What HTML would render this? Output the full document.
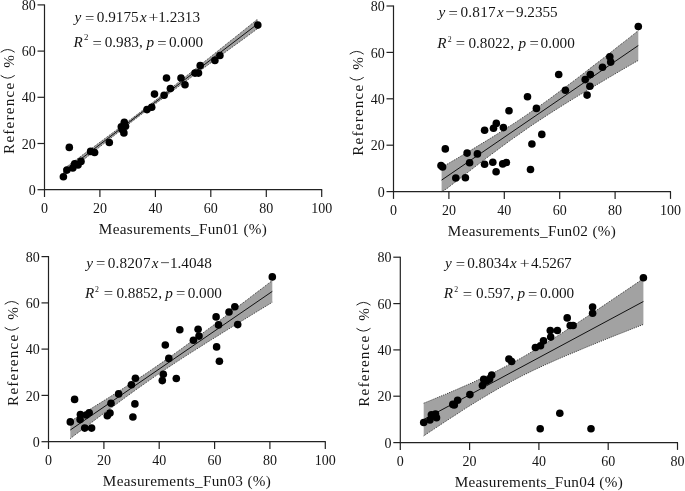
<!DOCTYPE html>
<html><head><meta charset="utf-8"><title>Regression plots</title>
<style>html,body{margin:0;padding:0;background:#fff;}body{width:685px;height:491px;overflow:hidden;font-family:"Liberation Serif",serif;}</style></head>
<body>
<svg width="685" height="491" viewBox="0 0 685 491" style="display:block;will-change:transform" font-family='"Liberation Serif", serif' fill="#151515">
<rect width="685" height="491" fill="#fff"/>
<polygon points="63.4,169.1 68.3,165.5 73.1,162.0 78.0,158.4 82.8,154.8 87.7,151.3 92.6,147.7 97.4,144.1 102.3,140.5 107.1,136.9 112.0,133.3 116.9,129.7 121.7,126.1 126.6,122.4 131.4,118.8 136.3,115.1 141.2,111.4 146.0,107.6 150.9,103.9 155.7,100.1 160.6,96.3 165.5,92.5 170.3,88.7 175.2,84.9 180.0,81.0 184.9,77.2 189.8,73.3 194.6,69.5 199.5,65.6 204.3,61.7 209.2,57.9 214.1,54.0 218.9,50.1 223.8,46.2 228.6,42.3 233.5,38.5 238.4,34.6 243.2,30.7 248.1,26.8 252.9,22.9 257.8,19.0 257.8,28.5 252.9,32.1 248.1,35.6 243.2,39.2 238.4,42.7 233.5,46.2 228.6,49.8 223.8,53.3 218.9,56.9 214.1,60.5 209.2,64.0 204.3,67.6 199.5,71.1 194.6,74.7 189.8,78.3 184.9,81.8 180.0,85.4 175.2,89.0 170.3,92.6 165.5,96.2 160.6,99.9 155.7,103.5 150.9,107.2 146.0,110.9 141.2,114.6 136.3,118.3 131.4,122.0 126.6,125.8 121.7,129.6 116.9,133.4 112.0,137.2 107.1,141.0 102.3,144.8 97.4,148.7 92.6,152.5 87.7,156.4 82.8,160.2 78.0,164.1 73.1,168.0 68.3,171.9 63.4,175.7" fill="#a2a2a2"/>
<polyline points="63.4,169.1 68.3,165.5 73.1,162.0 78.0,158.4 82.8,154.8 87.7,151.3 92.6,147.7 97.4,144.1 102.3,140.5 107.1,136.9 112.0,133.3 116.9,129.7 121.7,126.1 126.6,122.4 131.4,118.8 136.3,115.1 141.2,111.4 146.0,107.6 150.9,103.9 155.7,100.1 160.6,96.3 165.5,92.5 170.3,88.7 175.2,84.9 180.0,81.0 184.9,77.2 189.8,73.3 194.6,69.5 199.5,65.6 204.3,61.7 209.2,57.9 214.1,54.0 218.9,50.1 223.8,46.2 228.6,42.3 233.5,38.5 238.4,34.6 243.2,30.7 248.1,26.8 252.9,22.9 257.8,19.0" fill="none" stroke="#333" stroke-width="1" stroke-dasharray="1 1.1"/>
<polyline points="63.4,175.7 68.3,171.9 73.1,168.0 78.0,164.1 82.8,160.2 87.7,156.4 92.6,152.5 97.4,148.7 102.3,144.8 107.1,141.0 112.0,137.2 116.9,133.4 121.7,129.6 126.6,125.8 131.4,122.0 136.3,118.3 141.2,114.6 146.0,110.9 150.9,107.2 155.7,103.5 160.6,99.9 165.5,96.2 170.3,92.6 175.2,89.0 180.0,85.4 184.9,81.8 189.8,78.3 194.6,74.7 199.5,71.1 204.3,67.6 209.2,64.0 214.1,60.5 218.9,56.9 223.8,53.3 228.6,49.8 233.5,46.2 238.4,42.7 243.2,39.2 248.1,35.6 252.9,32.1 257.8,28.5" fill="none" stroke="#333" stroke-width="1" stroke-dasharray="1 1.1"/>
<line x1="63.4" y1="172.4" x2="257.8" y2="23.8" stroke="#111" stroke-width="1"/>
<path d="M44.5 4.4V190.2M44.0 189.7H322.2" stroke="#222" stroke-width="1.2" fill="none"/>
<line x1="37.5" y1="189.7" x2="44.5" y2="189.7" stroke="#222" stroke-width="1.2"/>
<text x="35.7" y="194.8" font-size="14.0" text-anchor="end">0</text>
<line x1="37.5" y1="143.5" x2="44.5" y2="143.5" stroke="#222" stroke-width="1.2"/>
<text x="35.7" y="148.6" font-size="14.0" text-anchor="end">20</text>
<line x1="37.5" y1="97.3" x2="44.5" y2="97.3" stroke="#222" stroke-width="1.2"/>
<text x="35.7" y="102.4" font-size="14.0" text-anchor="end">40</text>
<line x1="37.5" y1="51.1" x2="44.5" y2="51.1" stroke="#222" stroke-width="1.2"/>
<text x="35.7" y="56.2" font-size="14.0" text-anchor="end">60</text>
<line x1="37.5" y1="4.9" x2="44.5" y2="4.9" stroke="#222" stroke-width="1.2"/>
<text x="35.7" y="10.0" font-size="14.0" text-anchor="end">80</text>
<line x1="44.5" y1="189.7" x2="44.5" y2="197.0" stroke="#222" stroke-width="1.2"/>
<text x="44.5" y="212.6" font-size="14.0" text-anchor="middle">0</text>
<line x1="99.9" y1="189.7" x2="99.9" y2="197.0" stroke="#222" stroke-width="1.2"/>
<text x="99.9" y="212.6" font-size="14.0" text-anchor="middle">20</text>
<line x1="155.4" y1="189.7" x2="155.4" y2="197.0" stroke="#222" stroke-width="1.2"/>
<text x="155.4" y="212.6" font-size="14.0" text-anchor="middle">40</text>
<line x1="210.8" y1="189.7" x2="210.8" y2="197.0" stroke="#222" stroke-width="1.2"/>
<text x="210.8" y="212.6" font-size="14.0" text-anchor="middle">60</text>
<line x1="266.3" y1="189.7" x2="266.3" y2="197.0" stroke="#222" stroke-width="1.2"/>
<text x="266.3" y="212.6" font-size="14.0" text-anchor="middle">80</text>
<line x1="321.7" y1="189.7" x2="321.7" y2="197.0" stroke="#222" stroke-width="1.2"/>
<text x="321.7" y="212.6" font-size="14.0" text-anchor="middle">100</text>
<text x="98.86" y="233.60" font-size="15.2" letter-spacing="0.3">Measurements_Fun01</text>
<text x="243.43" y="233.60" font-size="15.2" letter-spacing="0.35">(%)</text>
<g transform="translate(13.5,153.5) rotate(-90)"><text x="-0.44" y="0" font-size="15.2" letter-spacing="1.2">Reference</text><text x="85.68" y="0.00" font-size="15.2">%</text><path d="M77.80,-12.5 Q72.60,-5.8 77.80,0.9" fill="none" stroke="#222" stroke-width="1" stroke-linecap="round"/><path d="M101.50,-12.5 Q106.70,-5.8 101.50,0.9" fill="none" stroke="#222" stroke-width="1" stroke-linecap="round"/></g>
<text x="74.57" y="22.10" font-size="15.2" font-style="italic">y</text>
<text transform="translate(84.97,22.80) scale(1.09,1)" font-size="15.2">=</text>
<text x="96.82" y="22.10" font-size="15.2">0.9175</text>
<text x="140.09" y="22.10" font-size="15.2" font-style="italic">x</text>
<text transform="translate(148.53,22.40) scale(1.15,1)" font-size="15.2">+</text>
<text x="158.26" y="22.10" font-size="15.2">1.2313</text>
<text x="73.38" y="47.30" font-size="15.2" font-style="italic">R</text>
<text x="83.91" y="40.30" font-size="8.8">2</text>
<text transform="translate(92.47,48.00) scale(1.09,1)" font-size="15.2">=</text>
<text x="104.72" y="47.30" font-size="15.2">0.983,</text>
<text x="146.49" y="47.30" font-size="15.2" font-style="italic">p</text>
<text transform="translate(157.17,48.00) scale(1.09,1)" font-size="15.2">=</text>
<text x="168.92" y="47.30" font-size="15.2">0.000</text>
<circle cx="63.4" cy="176.7" r="3.8" fill="#000"/>
<circle cx="66.9" cy="170.1" r="3.8" fill="#000"/>
<circle cx="69.3" cy="147.4" r="3.8" fill="#000"/>
<circle cx="72.8" cy="168" r="3.8" fill="#000"/>
<circle cx="74.7" cy="163.8" r="3.8" fill="#000"/>
<circle cx="78" cy="165" r="3.8" fill="#000"/>
<circle cx="81" cy="161.4" r="3.8" fill="#000"/>
<circle cx="90.6" cy="151.4" r="3.8" fill="#000"/>
<circle cx="94.6" cy="152.5" r="3.8" fill="#000"/>
<circle cx="109.3" cy="142.5" r="3.8" fill="#000"/>
<circle cx="121.3" cy="126.8" r="3.8" fill="#000"/>
<circle cx="124.3" cy="122.3" r="3.8" fill="#000"/>
<circle cx="125.5" cy="126.3" r="3.8" fill="#000"/>
<circle cx="123.9" cy="132.9" r="3.8" fill="#000"/>
<circle cx="122.4" cy="129.8" r="3.8" fill="#000"/>
<circle cx="147" cy="109.6" r="3.8" fill="#000"/>
<circle cx="151.7" cy="107.3" r="3.8" fill="#000"/>
<circle cx="154.5" cy="94.1" r="3.8" fill="#000"/>
<circle cx="164.1" cy="95.3" r="3.8" fill="#000"/>
<circle cx="166.5" cy="78" r="3.8" fill="#000"/>
<circle cx="170.4" cy="88.5" r="3.8" fill="#000"/>
<circle cx="181" cy="78" r="3.8" fill="#000"/>
<circle cx="185" cy="84.8" r="3.8" fill="#000"/>
<circle cx="195" cy="73.1" r="3.8" fill="#000"/>
<circle cx="198.5" cy="73.1" r="3.8" fill="#000"/>
<circle cx="200.2" cy="65.6" r="3.8" fill="#000"/>
<circle cx="214.9" cy="60.4" r="3.8" fill="#000"/>
<circle cx="219.9" cy="55.5" r="3.8" fill="#000"/>
<circle cx="257.8" cy="25.1" r="3.8" fill="#000"/>
<polygon points="441.6,167.5 446.5,164.6 451.4,161.7 456.4,158.8 461.3,155.9 466.2,153.0 471.1,150.1 476.0,147.1 480.9,144.1 485.9,141.1 490.8,138.1 495.7,135.0 500.6,131.9 505.5,128.8 510.4,125.7 515.4,122.5 520.3,119.2 525.2,115.9 530.1,112.5 535.0,109.1 540.0,105.7 544.9,102.2 549.8,98.7 554.7,95.1 559.6,91.4 564.5,87.8 569.5,84.1 574.4,80.4 579.3,76.7 584.2,72.9 589.1,69.1 594.0,65.3 599.0,61.5 603.9,57.7 608.8,53.8 613.7,50.0 618.6,46.1 623.5,42.3 628.5,38.4 633.4,34.5 638.3,30.6 638.3,60.4 633.4,63.2 628.5,66.1 623.5,68.9 618.6,71.8 613.7,74.7 608.8,77.6 603.9,80.5 599.0,83.4 594.0,86.3 589.1,89.2 584.2,92.2 579.3,95.1 574.4,98.1 569.5,101.1 564.5,104.2 559.6,107.3 554.7,110.4 549.8,113.5 544.9,116.7 540.0,119.9 535.0,123.2 530.1,126.5 525.2,129.9 520.3,133.4 515.4,136.8 510.4,140.3 505.5,143.9 500.6,147.5 495.7,151.2 490.8,154.8 485.9,158.5 480.9,162.3 476.0,166.0 471.1,169.8 466.2,173.6 461.3,177.4 456.4,181.2 451.4,185.0 446.5,188.9 441.6,191.6" fill="#a2a2a2"/>
<polyline points="441.6,167.5 446.5,164.6 451.4,161.7 456.4,158.8 461.3,155.9 466.2,153.0 471.1,150.1 476.0,147.1 480.9,144.1 485.9,141.1 490.8,138.1 495.7,135.0 500.6,131.9 505.5,128.8 510.4,125.7 515.4,122.5 520.3,119.2 525.2,115.9 530.1,112.5 535.0,109.1 540.0,105.7 544.9,102.2 549.8,98.7 554.7,95.1 559.6,91.4 564.5,87.8 569.5,84.1 574.4,80.4 579.3,76.7 584.2,72.9 589.1,69.1 594.0,65.3 599.0,61.5 603.9,57.7 608.8,53.8 613.7,50.0 618.6,46.1 623.5,42.3 628.5,38.4 633.4,34.5 638.3,30.6" fill="none" stroke="#333" stroke-width="1" stroke-dasharray="1 1.1"/>
<polyline points="441.6,191.6 446.5,188.9 451.4,185.0 456.4,181.2 461.3,177.4 466.2,173.6 471.1,169.8 476.0,166.0 480.9,162.3 485.9,158.5 490.8,154.8 495.7,151.2 500.6,147.5 505.5,143.9 510.4,140.3 515.4,136.8 520.3,133.4 525.2,129.9 530.1,126.5 535.0,123.2 540.0,119.9 544.9,116.7 549.8,113.5 554.7,110.4 559.6,107.3 564.5,104.2 569.5,101.1 574.4,98.1 579.3,95.1 584.2,92.2 589.1,89.2 594.0,86.3 599.0,83.4 603.9,80.5 608.8,77.6 613.7,74.7 618.6,71.8 623.5,68.9 628.5,66.1 633.4,63.2 638.3,60.4" fill="none" stroke="#333" stroke-width="1" stroke-dasharray="1 1.1"/>
<line x1="441.6" y1="180.1" x2="638.3" y2="45.5" stroke="#111" stroke-width="1"/>
<path d="M393.5 5.5V192.1M393.0 191.6H671.0" stroke="#222" stroke-width="1.2" fill="none"/>
<line x1="386.5" y1="191.6" x2="393.5" y2="191.6" stroke="#222" stroke-width="1.2"/>
<text x="384.7" y="196.7" font-size="14.0" text-anchor="end">0</text>
<line x1="386.5" y1="145.2" x2="393.5" y2="145.2" stroke="#222" stroke-width="1.2"/>
<text x="384.7" y="150.3" font-size="14.0" text-anchor="end">20</text>
<line x1="386.5" y1="98.8" x2="393.5" y2="98.8" stroke="#222" stroke-width="1.2"/>
<text x="384.7" y="103.9" font-size="14.0" text-anchor="end">40</text>
<line x1="386.5" y1="52.4" x2="393.5" y2="52.4" stroke="#222" stroke-width="1.2"/>
<text x="384.7" y="57.5" font-size="14.0" text-anchor="end">60</text>
<line x1="386.5" y1="6.0" x2="393.5" y2="6.0" stroke="#222" stroke-width="1.2"/>
<text x="384.7" y="11.1" font-size="14.0" text-anchor="end">80</text>
<line x1="393.5" y1="191.6" x2="393.5" y2="198.9" stroke="#222" stroke-width="1.2"/>
<text x="393.5" y="214.5" font-size="14.0" text-anchor="middle">0</text>
<line x1="448.9" y1="191.6" x2="448.9" y2="198.9" stroke="#222" stroke-width="1.2"/>
<text x="448.9" y="214.5" font-size="14.0" text-anchor="middle">20</text>
<line x1="504.3" y1="191.6" x2="504.3" y2="198.9" stroke="#222" stroke-width="1.2"/>
<text x="504.3" y="214.5" font-size="14.0" text-anchor="middle">40</text>
<line x1="559.7" y1="191.6" x2="559.7" y2="198.9" stroke="#222" stroke-width="1.2"/>
<text x="559.7" y="214.5" font-size="14.0" text-anchor="middle">60</text>
<line x1="615.1" y1="191.6" x2="615.1" y2="198.9" stroke="#222" stroke-width="1.2"/>
<text x="615.1" y="214.5" font-size="14.0" text-anchor="middle">80</text>
<line x1="670.5" y1="191.6" x2="670.5" y2="198.9" stroke="#222" stroke-width="1.2"/>
<text x="670.5" y="214.5" font-size="14.0" text-anchor="middle">100</text>
<text x="447.86" y="235.50" font-size="15.2" letter-spacing="0.3">Measurements_Fun02</text>
<text x="592.43" y="235.50" font-size="15.2" letter-spacing="0.35">(%)</text>
<g transform="translate(362.5,155.4) rotate(-90)"><text x="-0.44" y="0" font-size="15.2" letter-spacing="1.2">Reference</text><text x="85.68" y="0.00" font-size="15.2">%</text><path d="M77.80,-12.5 Q72.60,-5.8 77.80,0.9" fill="none" stroke="#222" stroke-width="1" stroke-linecap="round"/><path d="M101.50,-12.5 Q106.70,-5.8 101.50,0.9" fill="none" stroke="#222" stroke-width="1" stroke-linecap="round"/></g>
<text x="438.47" y="17.10" font-size="15.2" font-style="italic">y</text>
<text transform="translate(448.47,17.80) scale(1.09,1)" font-size="15.2">=</text>
<text x="460.42" y="17.10" font-size="15.2" letter-spacing="0.25">0.817</text>
<text x="496.99" y="17.10" font-size="15.2" font-style="italic">x</text>
<text transform="translate(505.34,17.40) scale(1.13,1)" font-size="15.2">−</text>
<text x="515.91" y="17.10" font-size="15.2">9.2355</text>
<text x="437.28" y="47.70" font-size="15.2" font-style="italic">R</text>
<text x="447.76" y="41.90" font-size="7.8">2</text>
<text transform="translate(455.87,48.40) scale(1.09,1)" font-size="15.2">=</text>
<text x="468.42" y="47.70" font-size="15.2">0.8022,</text>
<text x="518.49" y="47.70" font-size="15.2" font-style="italic">p</text>
<text transform="translate(529.47,48.40) scale(1.09,1)" font-size="15.2">=</text>
<text x="540.62" y="47.70" font-size="15.2">0.000</text>
<circle cx="441.0" cy="165.5" r="3.8" fill="#000"/>
<circle cx="442.6" cy="167.0" r="3.8" fill="#000"/>
<circle cx="445.3" cy="148.9" r="3.8" fill="#000"/>
<circle cx="455.8" cy="178" r="3.8" fill="#000"/>
<circle cx="465.4" cy="177.7" r="3.8" fill="#000"/>
<circle cx="467.1" cy="153.1" r="3.8" fill="#000"/>
<circle cx="469.6" cy="162.8" r="3.8" fill="#000"/>
<circle cx="477.4" cy="153.9" r="3.8" fill="#000"/>
<circle cx="484.6" cy="164.2" r="3.8" fill="#000"/>
<circle cx="492.8" cy="162.3" r="3.8" fill="#000"/>
<circle cx="496.1" cy="171.7" r="3.8" fill="#000"/>
<circle cx="502.7" cy="163.9" r="3.8" fill="#000"/>
<circle cx="506.4" cy="162.5" r="3.8" fill="#000"/>
<circle cx="484.6" cy="130.2" r="3.8" fill="#000"/>
<circle cx="493.5" cy="128.3" r="3.8" fill="#000"/>
<circle cx="496.3" cy="123.4" r="3.8" fill="#000"/>
<circle cx="503.4" cy="127.6" r="3.8" fill="#000"/>
<circle cx="509" cy="110.8" r="3.8" fill="#000"/>
<circle cx="527.5" cy="96.7" r="3.8" fill="#000"/>
<circle cx="536.4" cy="108.4" r="3.8" fill="#000"/>
<circle cx="541.8" cy="134.4" r="3.8" fill="#000"/>
<circle cx="531.9" cy="144" r="3.8" fill="#000"/>
<circle cx="530.5" cy="169.5" r="3.8" fill="#000"/>
<circle cx="565.4" cy="90.2" r="3.8" fill="#000"/>
<circle cx="638.3" cy="26.5" r="3.8" fill="#000"/>
<circle cx="609.8" cy="56.7" r="3.8" fill="#000"/>
<circle cx="610.7" cy="62.1" r="3.8" fill="#000"/>
<circle cx="602.5" cy="67.2" r="3.8" fill="#000"/>
<circle cx="590.3" cy="74.5" r="3.8" fill="#000"/>
<circle cx="585.2" cy="79.6" r="3.8" fill="#000"/>
<circle cx="589.9" cy="86.2" r="3.8" fill="#000"/>
<circle cx="587.1" cy="95.1" r="3.8" fill="#000"/>
<circle cx="558.7" cy="74.5" r="3.8" fill="#000"/>
<polygon points="70.3,421.4 75.3,418.3 80.4,415.2 85.5,412.1 90.5,409.0 95.5,405.8 100.6,402.7 105.7,399.5 110.7,396.4 115.8,393.2 120.8,390.0 125.8,386.7 130.9,383.4 135.9,380.1 141.0,376.8 146.1,373.5 151.1,370.0 156.1,366.6 161.2,363.1 166.2,359.6 171.3,356.0 176.3,352.4 181.4,348.8 186.4,345.1 191.5,341.4 196.6,337.7 201.6,334.0 206.6,330.2 211.7,326.5 216.8,322.7 221.8,318.9 226.9,315.1 231.9,311.3 236.9,307.4 242.0,303.6 247.1,299.8 252.1,295.9 257.1,292.1 262.2,288.3 267.2,284.4 272.3,280.6 272.3,302.3 267.2,305.4 262.2,308.4 257.1,311.5 252.1,314.6 247.1,317.7 242.0,320.8 236.9,323.9 231.9,327.0 226.9,330.1 221.8,333.2 216.8,336.4 211.7,339.5 206.6,342.7 201.6,345.9 196.6,349.1 191.5,352.3 186.4,355.5 181.4,358.8 176.3,362.1 171.3,365.4 166.2,368.8 161.2,372.2 156.1,375.6 151.1,379.1 146.1,382.6 141.0,386.2 135.9,389.8 130.9,393.4 125.8,397.1 120.8,400.8 115.8,404.5 110.7,408.2 105.7,411.9 100.6,415.7 95.5,419.5 90.5,423.3 85.5,427.1 80.4,430.9 75.3,434.7 70.3,438.6" fill="#a2a2a2"/>
<polyline points="70.3,421.4 75.3,418.3 80.4,415.2 85.5,412.1 90.5,409.0 95.5,405.8 100.6,402.7 105.7,399.5 110.7,396.4 115.8,393.2 120.8,390.0 125.8,386.7 130.9,383.4 135.9,380.1 141.0,376.8 146.1,373.5 151.1,370.0 156.1,366.6 161.2,363.1 166.2,359.6 171.3,356.0 176.3,352.4 181.4,348.8 186.4,345.1 191.5,341.4 196.6,337.7 201.6,334.0 206.6,330.2 211.7,326.5 216.8,322.7 221.8,318.9 226.9,315.1 231.9,311.3 236.9,307.4 242.0,303.6 247.1,299.8 252.1,295.9 257.1,292.1 262.2,288.3 267.2,284.4 272.3,280.6" fill="none" stroke="#333" stroke-width="1" stroke-dasharray="1 1.1"/>
<polyline points="70.3,438.6 75.3,434.7 80.4,430.9 85.5,427.1 90.5,423.3 95.5,419.5 100.6,415.7 105.7,411.9 110.7,408.2 115.8,404.5 120.8,400.8 125.8,397.1 130.9,393.4 135.9,389.8 141.0,386.2 146.1,382.6 151.1,379.1 156.1,375.6 161.2,372.2 166.2,368.8 171.3,365.4 176.3,362.1 181.4,358.8 186.4,355.5 191.5,352.3 196.6,349.1 201.6,345.9 206.6,342.7 211.7,339.5 216.8,336.4 221.8,333.2 226.9,330.1 231.9,327.0 236.9,323.9 242.0,320.8 247.1,317.7 252.1,314.6 257.1,311.5 262.2,308.4 267.2,305.4 272.3,302.3" fill="none" stroke="#333" stroke-width="1" stroke-dasharray="1 1.1"/>
<line x1="70.3" y1="430.0" x2="272.3" y2="291.4" stroke="#111" stroke-width="1"/>
<path d="M48.5 256.1V442.2M48.0 441.7H325.8" stroke="#222" stroke-width="1.2" fill="none"/>
<line x1="41.5" y1="441.7" x2="48.5" y2="441.7" stroke="#222" stroke-width="1.2"/>
<text x="39.7" y="446.8" font-size="14.0" text-anchor="end">0</text>
<line x1="41.5" y1="395.4" x2="48.5" y2="395.4" stroke="#222" stroke-width="1.2"/>
<text x="39.7" y="400.5" font-size="14.0" text-anchor="end">20</text>
<line x1="41.5" y1="349.1" x2="48.5" y2="349.1" stroke="#222" stroke-width="1.2"/>
<text x="39.7" y="354.2" font-size="14.0" text-anchor="end">40</text>
<line x1="41.5" y1="302.9" x2="48.5" y2="302.9" stroke="#222" stroke-width="1.2"/>
<text x="39.7" y="308.0" font-size="14.0" text-anchor="end">60</text>
<line x1="41.5" y1="256.6" x2="48.5" y2="256.6" stroke="#222" stroke-width="1.2"/>
<text x="39.7" y="261.7" font-size="14.0" text-anchor="end">80</text>
<line x1="48.5" y1="441.7" x2="48.5" y2="449.0" stroke="#222" stroke-width="1.2"/>
<text x="48.5" y="464.6" font-size="14.0" text-anchor="middle">0</text>
<line x1="103.9" y1="441.7" x2="103.9" y2="449.0" stroke="#222" stroke-width="1.2"/>
<text x="103.9" y="464.6" font-size="14.0" text-anchor="middle">20</text>
<line x1="159.2" y1="441.7" x2="159.2" y2="449.0" stroke="#222" stroke-width="1.2"/>
<text x="159.2" y="464.6" font-size="14.0" text-anchor="middle">40</text>
<line x1="214.6" y1="441.7" x2="214.6" y2="449.0" stroke="#222" stroke-width="1.2"/>
<text x="214.6" y="464.6" font-size="14.0" text-anchor="middle">60</text>
<line x1="269.9" y1="441.7" x2="269.9" y2="449.0" stroke="#222" stroke-width="1.2"/>
<text x="269.9" y="464.6" font-size="14.0" text-anchor="middle">80</text>
<line x1="325.3" y1="441.7" x2="325.3" y2="449.0" stroke="#222" stroke-width="1.2"/>
<text x="325.3" y="464.6" font-size="14.0" text-anchor="middle">100</text>
<text x="102.86" y="485.60" font-size="15.2" letter-spacing="0.3">Measurements_Fun03</text>
<text x="247.43" y="485.60" font-size="15.2" letter-spacing="0.35">(%)</text>
<g transform="translate(17.5,405.5) rotate(-90)"><text x="-0.44" y="0" font-size="15.2" letter-spacing="1.2">Reference</text><text x="85.68" y="0.00" font-size="15.2">%</text><path d="M77.80,-12.5 Q72.60,-5.8 77.80,0.9" fill="none" stroke="#222" stroke-width="1" stroke-linecap="round"/><path d="M101.50,-12.5 Q106.70,-5.8 101.50,0.9" fill="none" stroke="#222" stroke-width="1" stroke-linecap="round"/></g>
<text x="86.17" y="267.50" font-size="15.2" font-style="italic">y</text>
<text transform="translate(96.07,268.20) scale(1.09,1)" font-size="15.2">=</text>
<text x="107.72" y="267.50" font-size="15.2" letter-spacing="0.2">0.8207</text>
<text x="151.79" y="267.50" font-size="15.2" font-style="italic">x</text>
<text transform="translate(159.94,267.80) scale(1.13,1)" font-size="15.2">−</text>
<text x="169.96" y="267.50" font-size="15.2">1.4048</text>
<text x="84.98" y="297.70" font-size="15.2" font-style="italic">R</text>
<text x="95.06" y="291.90" font-size="7.8">2</text>
<text transform="translate(103.67,298.40) scale(1.09,1)" font-size="15.2">=</text>
<text x="116.42" y="297.70" font-size="15.2">0.8852,</text>
<text x="165.19" y="297.70" font-size="15.2" font-style="italic">p</text>
<text transform="translate(175.97,298.40) scale(1.09,1)" font-size="15.2">=</text>
<text x="187.72" y="297.70" font-size="15.2">0.000</text>
<circle cx="70.3" cy="421.9" r="3.8" fill="#000"/>
<circle cx="74.6" cy="399.4" r="3.8" fill="#000"/>
<circle cx="80.4" cy="414.5" r="3.8" fill="#000"/>
<circle cx="80.1" cy="419.6" r="3.8" fill="#000"/>
<circle cx="84.7" cy="428.1" r="3.8" fill="#000"/>
<circle cx="86.2" cy="415" r="3.8" fill="#000"/>
<circle cx="89.2" cy="412.7" r="3.8" fill="#000"/>
<circle cx="91.6" cy="428.1" r="3.8" fill="#000"/>
<circle cx="107.3" cy="415.7" r="3.8" fill="#000"/>
<circle cx="110" cy="413" r="3.8" fill="#000"/>
<circle cx="111" cy="403.2" r="3.8" fill="#000"/>
<circle cx="118.6" cy="393.9" r="3.8" fill="#000"/>
<circle cx="131.4" cy="384.8" r="3.8" fill="#000"/>
<circle cx="135.4" cy="378.3" r="3.8" fill="#000"/>
<circle cx="134.9" cy="403.9" r="3.8" fill="#000"/>
<circle cx="132.9" cy="417" r="3.8" fill="#000"/>
<circle cx="163.3" cy="374.3" r="3.8" fill="#000"/>
<circle cx="162.3" cy="380.6" r="3.8" fill="#000"/>
<circle cx="176.3" cy="378.5" r="3.8" fill="#000"/>
<circle cx="272.3" cy="276.9" r="3.8" fill="#000"/>
<circle cx="234.8" cy="306.8" r="3.8" fill="#000"/>
<circle cx="229" cy="312" r="3.8" fill="#000"/>
<circle cx="237.7" cy="324.6" r="3.8" fill="#000"/>
<circle cx="216.1" cy="316.9" r="3.8" fill="#000"/>
<circle cx="218.5" cy="324.9" r="3.8" fill="#000"/>
<circle cx="198.1" cy="329.3" r="3.8" fill="#000"/>
<circle cx="199" cy="336.1" r="3.8" fill="#000"/>
<circle cx="193.4" cy="340.3" r="3.8" fill="#000"/>
<circle cx="179.8" cy="329.8" r="3.8" fill="#000"/>
<circle cx="165.3" cy="345" r="3.8" fill="#000"/>
<circle cx="168.8" cy="358.4" r="3.8" fill="#000"/>
<circle cx="216.6" cy="346.9" r="3.8" fill="#000"/>
<circle cx="219.4" cy="361.2" r="3.8" fill="#000"/>
<polygon points="423.7,403.2 429.2,401.0 434.7,398.7 440.2,396.4 445.7,394.2 451.2,391.8 456.7,389.5 462.1,387.1 467.6,384.7 473.1,382.3 478.6,379.7 484.1,377.2 489.6,374.6 495.1,371.9 500.6,369.1 506.1,366.2 511.6,363.3 517.1,360.3 522.6,357.2 528.1,354.0 533.5,350.8 539.0,347.5 544.5,344.1 550.0,340.7 555.5,337.2 561.0,333.7 566.5,330.1 572.0,326.5 577.5,322.9 583.0,319.3 588.5,315.7 594.0,312.0 599.5,308.3 605.0,304.6 610.4,300.9 615.9,297.2 621.4,293.5 626.9,289.8 632.4,286.1 637.9,282.3 643.4,278.6 643.4,324.4 637.9,326.6 632.4,328.7 626.9,330.9 621.4,333.1 615.9,335.2 610.4,337.4 605.0,339.6 599.5,341.8 594.0,344.1 588.5,346.3 583.0,348.6 577.5,350.9 572.0,353.2 566.5,355.5 561.0,357.8 555.5,360.2 550.0,362.7 544.5,365.1 539.0,367.7 533.5,370.2 528.1,372.9 522.6,375.6 517.1,378.4 511.6,381.3 506.1,384.3 500.6,387.3 495.1,390.5 489.6,393.7 484.1,397.0 478.6,400.3 473.1,403.7 467.6,407.1 462.1,410.6 456.7,414.2 451.2,417.7 445.7,421.3 440.2,424.9 434.7,428.6 429.2,432.2 423.7,435.9" fill="#a2a2a2"/>
<polyline points="423.7,403.2 429.2,401.0 434.7,398.7 440.2,396.4 445.7,394.2 451.2,391.8 456.7,389.5 462.1,387.1 467.6,384.7 473.1,382.3 478.6,379.7 484.1,377.2 489.6,374.6 495.1,371.9 500.6,369.1 506.1,366.2 511.6,363.3 517.1,360.3 522.6,357.2 528.1,354.0 533.5,350.8 539.0,347.5 544.5,344.1 550.0,340.7 555.5,337.2 561.0,333.7 566.5,330.1 572.0,326.5 577.5,322.9 583.0,319.3 588.5,315.7 594.0,312.0 599.5,308.3 605.0,304.6 610.4,300.9 615.9,297.2 621.4,293.5 626.9,289.8 632.4,286.1 637.9,282.3 643.4,278.6" fill="none" stroke="#333" stroke-width="1" stroke-dasharray="1 1.1"/>
<polyline points="423.7,435.9 429.2,432.2 434.7,428.6 440.2,424.9 445.7,421.3 451.2,417.7 456.7,414.2 462.1,410.6 467.6,407.1 473.1,403.7 478.6,400.3 484.1,397.0 489.6,393.7 495.1,390.5 500.6,387.3 506.1,384.3 511.6,381.3 517.1,378.4 522.6,375.6 528.1,372.9 533.5,370.2 539.0,367.7 544.5,365.1 550.0,362.7 555.5,360.2 561.0,357.8 566.5,355.5 572.0,353.2 577.5,350.9 583.0,348.6 588.5,346.3 594.0,344.1 599.5,341.8 605.0,339.6 610.4,337.4 615.9,335.2 621.4,333.1 626.9,330.9 632.4,328.7 637.9,326.6 643.4,324.4" fill="none" stroke="#333" stroke-width="1" stroke-dasharray="1 1.1"/>
<line x1="423.7" y1="419.5" x2="643.4" y2="301.5" stroke="#111" stroke-width="1"/>
<path d="M400.3 256.7V443.1M399.8 442.6H678.0" stroke="#222" stroke-width="1.2" fill="none"/>
<line x1="393.3" y1="442.6" x2="400.3" y2="442.6" stroke="#222" stroke-width="1.2"/>
<text x="391.5" y="447.7" font-size="14.0" text-anchor="end">0</text>
<line x1="393.3" y1="396.2" x2="400.3" y2="396.2" stroke="#222" stroke-width="1.2"/>
<text x="391.5" y="401.4" font-size="14.0" text-anchor="end">20</text>
<line x1="393.3" y1="349.9" x2="400.3" y2="349.9" stroke="#222" stroke-width="1.2"/>
<text x="391.5" y="355.0" font-size="14.0" text-anchor="end">40</text>
<line x1="393.3" y1="303.6" x2="400.3" y2="303.6" stroke="#222" stroke-width="1.2"/>
<text x="391.5" y="308.7" font-size="14.0" text-anchor="end">60</text>
<line x1="393.3" y1="257.2" x2="400.3" y2="257.2" stroke="#222" stroke-width="1.2"/>
<text x="391.5" y="262.3" font-size="14.0" text-anchor="end">80</text>
<line x1="400.3" y1="442.6" x2="400.3" y2="449.9" stroke="#222" stroke-width="1.2"/>
<text x="400.3" y="465.5" font-size="14.0" text-anchor="middle">0</text>
<line x1="469.6" y1="442.6" x2="469.6" y2="449.9" stroke="#222" stroke-width="1.2"/>
<text x="469.6" y="465.5" font-size="14.0" text-anchor="middle">20</text>
<line x1="538.9" y1="442.6" x2="538.9" y2="449.9" stroke="#222" stroke-width="1.2"/>
<text x="538.9" y="465.5" font-size="14.0" text-anchor="middle">40</text>
<line x1="608.2" y1="442.6" x2="608.2" y2="449.9" stroke="#222" stroke-width="1.2"/>
<text x="608.2" y="465.5" font-size="14.0" text-anchor="middle">60</text>
<line x1="677.5" y1="442.6" x2="677.5" y2="449.9" stroke="#222" stroke-width="1.2"/>
<text x="677.5" y="465.5" font-size="14.0" text-anchor="middle">80</text>
<text x="454.66" y="486.50" font-size="15.2" letter-spacing="0.3">Measurements_Fun04</text>
<text x="599.23" y="486.50" font-size="15.2" letter-spacing="0.35">(%)</text>
<g transform="translate(369.3,406.4) rotate(-90)"><text x="-0.44" y="0" font-size="15.2" letter-spacing="1.2">Reference</text><text x="85.68" y="0.00" font-size="15.2">%</text><path d="M77.80,-12.5 Q72.60,-5.8 77.80,0.9" fill="none" stroke="#222" stroke-width="1" stroke-linecap="round"/><path d="M101.50,-12.5 Q106.70,-5.8 101.50,0.9" fill="none" stroke="#222" stroke-width="1" stroke-linecap="round"/></g>
<text x="444.97" y="268.00" font-size="15.2" font-style="italic">y</text>
<text transform="translate(455.67,268.70) scale(1.09,1)" font-size="15.2">=</text>
<text x="467.22" y="268.00" font-size="15.2">0.8034</text>
<text x="510.09" y="268.00" font-size="15.2" font-style="italic">x</text>
<text transform="translate(519.63,268.30) scale(1.15,1)" font-size="15.2">+</text>
<text x="530.90" y="268.00" font-size="15.2" letter-spacing="-0.2">4.5267</text>
<text x="443.78" y="298.20" font-size="15.2" font-style="italic">R</text>
<text x="454.26" y="292.40" font-size="7.8">2</text>
<text transform="translate(462.67,298.90) scale(1.09,1)" font-size="15.2">=</text>
<text x="476.12" y="298.20" font-size="15.2">0.597,</text>
<text x="517.39" y="298.20" font-size="15.2" font-style="italic">p</text>
<text transform="translate(527.97,298.90) scale(1.09,1)" font-size="15.2">=</text>
<text x="540.02" y="298.20" font-size="15.2">0.000</text>
<circle cx="423.7" cy="422.5" r="3.8" fill="#000"/>
<circle cx="429.9" cy="420" r="3.8" fill="#000"/>
<circle cx="431.4" cy="414.7" r="3.8" fill="#000"/>
<circle cx="435.5" cy="414" r="3.8" fill="#000"/>
<circle cx="436.5" cy="417.7" r="3.8" fill="#000"/>
<circle cx="452.8" cy="404.4" r="3.8" fill="#000"/>
<circle cx="454.3" cy="404.9" r="3.8" fill="#000"/>
<circle cx="457.6" cy="400.2" r="3.8" fill="#000"/>
<circle cx="469.9" cy="394.6" r="3.8" fill="#000"/>
<circle cx="482.4" cy="385.6" r="3.8" fill="#000"/>
<circle cx="483.7" cy="379.3" r="3.8" fill="#000"/>
<circle cx="486.7" cy="381.1" r="3.8" fill="#000"/>
<circle cx="489.5" cy="379.3" r="3.8" fill="#000"/>
<circle cx="491.7" cy="375" r="3.8" fill="#000"/>
<circle cx="643.4" cy="277.7" r="3.8" fill="#000"/>
<circle cx="592.6" cy="307.1" r="3.8" fill="#000"/>
<circle cx="592.6" cy="313.2" r="3.8" fill="#000"/>
<circle cx="567.2" cy="317.9" r="3.8" fill="#000"/>
<circle cx="570.2" cy="325.5" r="3.8" fill="#000"/>
<circle cx="573.1" cy="325.5" r="3.8" fill="#000"/>
<circle cx="557.4" cy="330.5" r="3.8" fill="#000"/>
<circle cx="550.3" cy="330.5" r="3.8" fill="#000"/>
<circle cx="550.7" cy="337.1" r="3.8" fill="#000"/>
<circle cx="543.5" cy="340.7" r="3.8" fill="#000"/>
<circle cx="540.5" cy="345.8" r="3.8" fill="#000"/>
<circle cx="535.4" cy="347.5" r="3.8" fill="#000"/>
<circle cx="508.9" cy="359.1" r="3.8" fill="#000"/>
<circle cx="511.6" cy="361.5" r="3.8" fill="#000"/>
<circle cx="559.8" cy="413.2" r="3.8" fill="#000"/>
<circle cx="540.2" cy="428.7" r="3.8" fill="#000"/>
<circle cx="591.0" cy="428.8" r="3.8" fill="#000"/>
</svg>
</body></html>
